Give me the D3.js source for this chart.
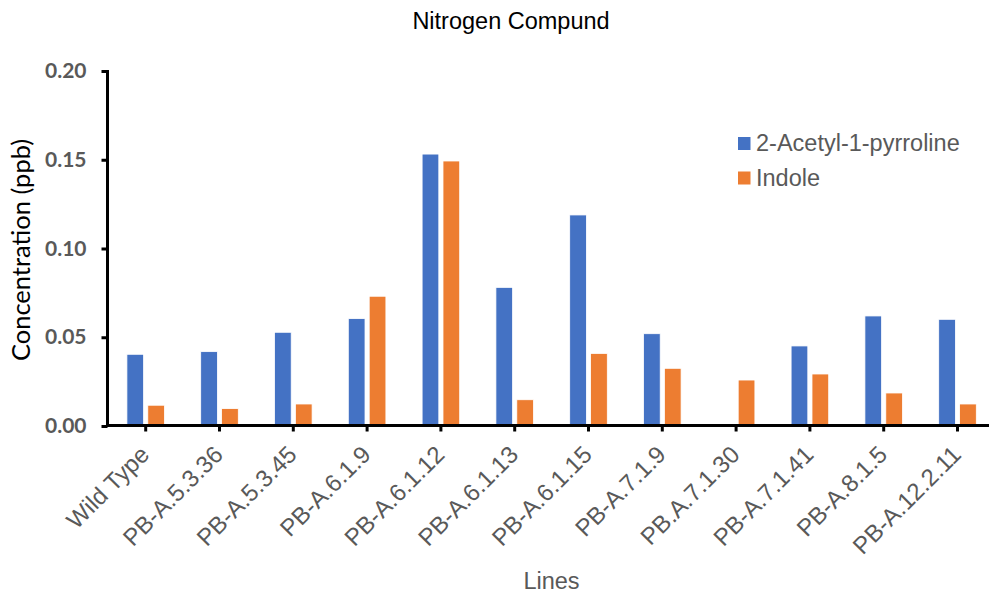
<!DOCTYPE html>
<html>
<head>
<meta charset="utf-8">
<script src="https://cdn.jsdelivr.net/npm/d3@7"></script>
<style>
  html, body { margin: 0; padding: 0; background: #fff; }
  svg { display: block; }
</style>
</head>
<body>
<svg id="chart" width="989" height="594"></svg>
<script>
const categories = ["Wild Type","PB-A.5.3.36","PB-A.5.3.45","PB-A.6.1.9","PB-A.6.1.12","PB-A.6.1.13","PB-A.6.1.15","PB-A.7.1.9","PB.A.7.1.30","PB-A.7.1.41","PB-A.8.1.5","PB-A.12.2.11"];
const series = ["2-Acetyl-1-pyrroline","Indole"];
const acetylValues = [0.0404,0.0419,0.0528,0.0605,0.1532,0.0781,0.1189,0.0520,0,0.0451,0.0620,0.0601];
const indoleValues = [0.0117,0.0098,0.0124,0.0731,0.1493,0.0148,0.0409,0.0325,0.0259,0.0293,0.0186,0.0124];
const yTicks = [0, 0.05, 0.10, 0.15, 0.20];
const seriesValues = [acetylValues, indoleValues];
const colors = ["#4472C4", "#ED7D31"];

const svg = d3.select("#chart");
svg.append("rect").attr("width", 989).attr("height", 594).attr("fill", "#fff");

const axisX = 107.5, baseY = 426, topY = 71;
const x0 = d3.scaleBand().domain(categories).range([108.8, 994.4]).padding(0);
const groupW = 37.6;
const x1 = d3.scaleBand().domain(series).range([-groupW / 2, groupW / 2]).paddingInner(0.2);
const y = d3.scaleLinear().domain([0, 0.2]).range([baseY, topY]);

// Bars
const data = [];
categories.forEach((c, i) => {
  series.forEach((s, j) => data.push({ c, s, j, v: seriesValues[j][i] }));
});
svg.append("g").selectAll("rect").data(data.filter(d => d.v > 0)).join("rect")
  .attr("x", d => x0(d.c) + x0.bandwidth() / 2 + x1(d.s))
  .attr("y", d => y(d.v))
  .attr("width", x1.bandwidth())
  .attr("height", d => y(0) - y(d.v))
  .attr("fill", d => colors[d.j])
  .attr("stroke", "#fff")
  .attr("stroke-width", 0.8);

// Y axis
const yAxis = svg.append("g").attr("transform", `translate(${axisX},0)`)
  .call(d3.axisLeft(y).tickValues(yTicks).tickFormat(d3.format(".2f")).tickSize(6).tickPadding(15).tickSizeOuter(0));
yAxis.select(".domain").attr("stroke", "#000").attr("stroke-width", 3).attr("d", `M0,${topY - 1}V${baseY + 1}`);
yAxis.selectAll(".tick line").attr("stroke", "#000").attr("stroke-width", 3);
yAxis.selectAll(".tick text")
  .attr("font-family", "Lato, 'Open Sans', sans-serif")
  .attr("font-weight", "bold").attr("font-size", 21).attr("fill", "#595959");

// X axis
const xAxis = svg.append("g").attr("transform", `translate(0,${baseY - 0.5})`)
  .call(d3.axisBottom(x0).tickSize(5).tickSizeOuter(0).tickFormat(""));
xAxis.select(".domain").attr("stroke", "#000").attr("stroke-width", 3).attr("d", `M${axisX - 1.5},0H989`);
xAxis.selectAll(".tick line").attr("stroke", "#000").attr("stroke-width", 3).attr("y1", 0).attr("y2", 6);

// X tick labels
svg.append("g").selectAll("text").data(categories).join("text")
  .attr("transform", d => `translate(${x0(d) + x0.bandwidth() / 2 + 5},${456}) rotate(-45)`)
  .attr("text-anchor", "end")
  .attr("font-family", "'Liberation Sans', Arial, sans-serif")
  .attr("font-size", 24).attr("fill", "#595959")
  .text(d => d);

// Title
svg.append("text").attr("x", 511).attr("y", 29).attr("text-anchor", "middle")
  .attr("font-family", "'Liberation Sans', Arial, sans-serif").attr("font-size", 23.5).attr("fill", "#000")
  .text("Nitrogen Compund");

// Axis titles
svg.append("text").attr("x", 551.5).attr("y", 589).attr("text-anchor", "middle")
  .attr("font-family", "'Liberation Sans', Arial, sans-serif").attr("font-size", 23.5).attr("fill", "#595959")
  .text("Lines");
svg.append("text").attr("transform", "translate(30,250) rotate(-90)").attr("text-anchor", "middle")
  .attr("font-family", "Lato, 'Open Sans', sans-serif").attr("font-size", 25.5).attr("fill", "#000")
  .text("Concentration (ppb)");

// Legend
const legend = svg.append("g").attr("transform", "translate(738,137)");
series.forEach((s, j) => {
  const g = legend.append("g").attr("transform", `translate(0,${j * 34.5})`);
  g.append("rect").attr("width", 12.5).attr("height", 13).attr("fill", colors[j]);
  g.append("text").attr("x", 18).attr("y", 14).attr("font-family", "'Liberation Sans', Arial, sans-serif")
    .attr("font-size", 23.5).attr("fill", "#595959").text(s);
});
</script>
</body>
</html>
